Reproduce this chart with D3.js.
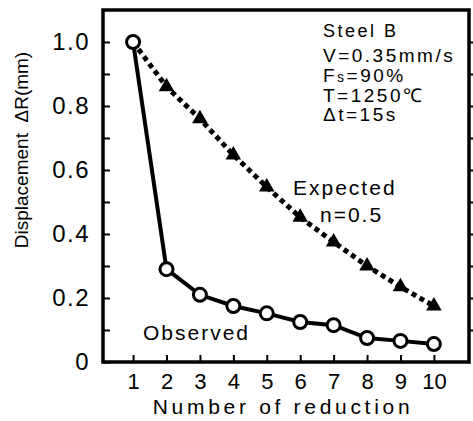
<!DOCTYPE html>
<html>
<head>
<meta charset="utf-8">
<script src="https://cdn.jsdelivr.net/npm/d3@7"></script>
<style>
  body { margin: 0; background: #fff; }
  svg { display: block; font-family: "Liberation Sans", Arial, sans-serif; }
</style>
</head>
<body>
<svg id="chart"></svg>
<script>
var width = 473;
var height = 421;

// data
var reductions = [1, 2, 3, 4, 5, 6, 7, 8, 9, 10];
var observed = [1.0, 0.29, 0.21, 0.175, 0.152, 0.125, 0.115, 0.075, 0.066, 0.056];
var expected = [1.0, 0.86, 0.76, 0.647, 0.547, 0.452, 0.375, 0.30, 0.235, 0.175];
var yTicks = [0, 0.2, 0.4, 0.6, 0.8, 1.0];
var yMinor = [0.1, 0.3, 0.5, 0.7, 0.9];
var conditions = ["Steel B", "V=0.35mm/s", "Fs=90%", "T=1250℃", "Δt=15s"];

var plot = { left: 103, right: 469, top: 10, bottom: 362 };

var x = d3.scaleLinear()
  .domain([0.1, 11.05])
  .range([plot.left, plot.right]);

var y = d3.scaleLinear()
  .domain([0, 1.1])
  .range([plot.bottom, plot.top]);

var svg = d3.select("#chart")
  .attr("width", width)
  .attr("height", height);

// right-side inward ticks
svg.append("g")
  .attr("transform", "translate(" + plot.right + ",0)")
  .call(d3.axisLeft(y).tickValues(d3.range(1, 11).map(d => d / 10)).tickSize(-7).tickFormat(""))
  .call(g => g.select(".domain").remove())
  .selectAll("line").attr("stroke-width", 2);

// frame
svg.append("rect")
  .attr("x", plot.left)
  .attr("y", plot.top)
  .attr("width", plot.right - plot.left)
  .attr("height", plot.bottom - plot.top)
  .attr("fill", "none")
  .attr("stroke", "#000")
  .attr("stroke-width", 3.5);

// x axis
var xAxis = svg.append("g")
  .attr("transform", "translate(0," + plot.bottom + ")")
  .call(d3.axisBottom(x).tickValues(reductions).tickSize(-7).tickPadding(11));
xAxis.select(".domain").remove();
xAxis.selectAll("line").attr("stroke-width", 2);
xAxis.selectAll("text")
  .attr("font-size", 22)
  .attr("font-family", "Liberation Sans, Arial, sans-serif")
  .attr("fill", "#000");

// y axis
var yAxis = svg.append("g")
  .attr("transform", "translate(" + plot.left + ",0)")
  .call(d3.axisLeft(y).tickValues(yTicks).tickSize(-7).tickPadding(13)
    .tickFormat(d => d === 0 ? "0" : d3.format(".1f")(d)));
yAxis.select(".domain").remove();
yAxis.selectAll("line").attr("stroke-width", 2);
yAxis.selectAll("text")
  .attr("font-size", 24)
  .attr("letter-spacing", 1.5)
  .attr("font-family", "Liberation Sans, Arial, sans-serif")
  .attr("fill", "#000");

svg.append("g")
  .attr("transform", "translate(" + plot.left + ",0)")
  .call(d3.axisLeft(y).tickValues(yMinor).tickSize(-7).tickFormat(""))
  .call(g => g.select(".domain").remove())
  .selectAll("line").attr("stroke-width", 2);

// axis titles
svg.append("text")
  .attr("x", 283)
  .attr("y", 414)
  .attr("text-anchor", "middle")
  .attr("font-size", 21)
  .attr("letter-spacing", 3.7)
  .text("Number of reduction");

svg.append("text")
  .attr("transform", "rotate(-90)")
  .attr("x", -150)
  .attr("y", 28)
  .attr("text-anchor", "middle")
  .attr("font-size", 19)
  .style("white-space", "pre")
  .text("Displacement  ΔR(mm)");

// lines
var line = d3.line()
  .x((d, i) => x(reductions[i]))
  .y(d => y(d));

svg.append("path")
  .datum(expected)
  .attr("d", line)
  .attr("fill", "none")
  .attr("stroke", "#000")
  .attr("stroke-width", 5)
  .attr("stroke-dasharray", "5,4");

svg.append("path")
  .datum(observed)
  .attr("d", line)
  .attr("fill", "none")
  .attr("stroke", "#000")
  .attr("stroke-width", 4);

// markers
svg.selectAll(".tri")
  .data(expected.slice(1))
  .enter()
  .append("path")
    .attr("class", "tri")
    .attr("transform", (d, i) => "translate(" + x(reductions[i + 1]) + "," + y(d) + ")")
    .attr("d", d3.symbol().type(d3.symbolTriangle).size(105))
    .attr("fill", "#000");

svg.selectAll(".obs")
  .data(observed)
  .enter()
  .append("circle")
    .attr("class", "obs")
    .attr("cx", (d, i) => x(reductions[i]))
    .attr("cy", d => y(d))
    .attr("r", 6.5)
    .attr("fill", "#fff")
    .attr("stroke", "#000")
    .attr("stroke-width", 3);

// labels
svg.append("text")
  .attr("x", 293)
  .attr("y", 195)
  .attr("font-size", 21)
  .attr("letter-spacing", 2)
  .text("Expected");

svg.append("text")
  .attr("x", 320)
  .attr("y", 222)
  .attr("font-size", 21)
  .attr("letter-spacing", 2)
  .text("n=0.5");

svg.append("text")
  .attr("x", 143)
  .attr("y", 340)
  .attr("font-size", 21)
  .attr("letter-spacing", 2)
  .text("Observed");

// conditions block
var condY = [37, 62, 82, 102, 121];
var cond = svg.selectAll(".cond")
  .data(conditions)
  .enter()
  .append("text")
    .attr("class", "cond")
    .attr("x", 323)
    .attr("y", (d, i) => condY[i])
    .attr("font-size", (d, i) => i === 0 ? 18 : 19)
    .attr("letter-spacing", 2.5);

// "Fs" gets a small subscript-like s
cond.each(function(d) {
  var t = d3.select(this);
  if (d.indexOf("Fs") === 0) {
    t.append("tspan").text("F");
    t.append("tspan").attr("font-size", 14).text("s");
    t.append("tspan").text(d.slice(2));
  } else {
    t.text(d);
  }
});
</script>
</body>
</html>
